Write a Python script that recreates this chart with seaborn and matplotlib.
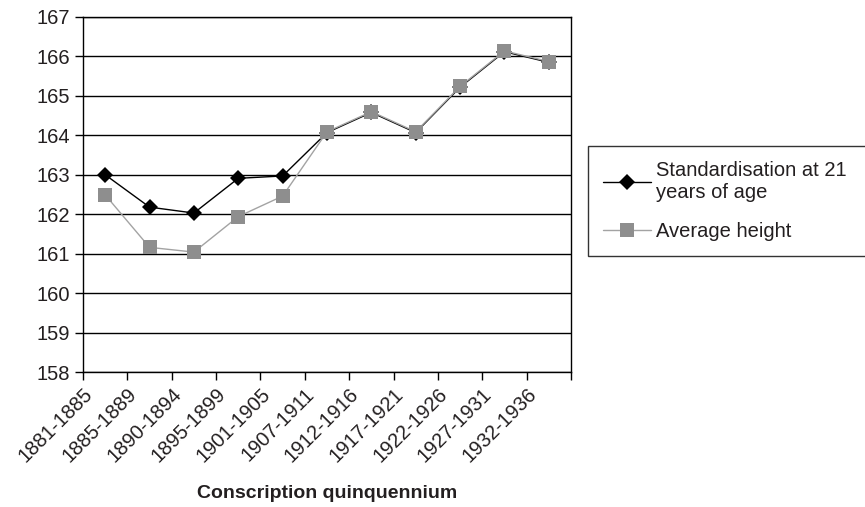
import pandas as pd
import matplotlib
matplotlib.use('Agg')
import matplotlib.pyplot as plt
import matplotlib.transforms as mtransforms
import seaborn as sns

# data
periods = ['1881-1885', '1885-1889', '1890-1894', '1895-1899', '1901-1905',
           '1907-1911', '1912-1916', '1917-1921', '1922-1926', '1927-1931',
           '1932-1936']
standardised = [163.0, 162.18, 162.03, 162.91, 162.97, 164.07, 164.58,
                164.07, 165.22, 166.12, 165.85]
average_height = [162.49, 161.16, 161.04, 161.94, 162.46, 164.09, 164.6,
                  164.09, 165.24, 166.14, 165.87]
label_std = 'Standardisation at 21\nyears of age'
label_avg = 'Average height'

df = pd.DataFrame({
    'pos': list(range(len(periods))) * 2,
    'height': standardised + average_height,
    'series': [label_std] * len(periods) + [label_avg] * len(periods),
})

sns.set_style('white')
plt.rcParams['font.family'] = ['Liberation Sans', 'DejaVu Sans']
txt = '#231f20'

fig = plt.figure(figsize=(8.65, 5.07), dpi=100)
ax = fig.add_axes([83 / 865, 1 - 372 / 507, (571 - 83) / 865, (372 - 17) / 507])

sns.lineplot(data=df, x='pos', y='height', hue='series', style='series',
             palette={label_std: '#000000', label_avg: '#a3a3a3'},
             markers={label_std: 'D', label_avg: 's'}, dashes=False,
             linewidth=1.0, markersize=8, markeredgewidth=0, ax=ax)
# square markers a bit darker than the grey line
for line in ax.get_lines():
    if line.get_marker() == 's':
        line.set_markerfacecolor('#8e8e8e')
        line.set_markersize(9.5)

ax.set_xlim(-0.5, len(periods) - 0.5)
ax.set_ylim(158, 167)
ax.set_yticks(range(158, 168))
ax.yaxis.grid(True, color='black', linewidth=1.0)
ax.set_axisbelow(True)

tick_pos = [i - 0.5 for i in range(len(periods) + 1)]
ax.set_xticks(tick_pos)
ax.set_xticklabels(periods + [''], rotation=45, ha='right',
                   rotation_mode='anchor')
offset = mtransforms.ScaledTranslation(9 / 72, 0, fig.dpi_scale_trans)
for lab in ax.get_xticklabels():
    lab.set_transform(lab.get_transform() + offset)

ax.tick_params(axis='both', which='major', direction='out', length=6,
               width=1, color='black', labelsize=14.5, labelcolor=txt,
               bottom=True, left=True)
ax.tick_params(axis='x', pad=3)
ax.tick_params(axis='y', pad=3)
for side in ['left', 'bottom', 'right', 'top']:
    ax.spines[side].set_visible(True)
    ax.spines[side].set_color('black')
    ax.spines[side].set_linewidth(1.0)

ax.set_xlabel('Conscription quinquennium', fontsize=14, fontweight='bold',
              color=txt, labelpad=14)
ax.set_ylabel('')

handles, labels = ax.get_legend_handles_labels()
ax.legend(handles, labels, loc='upper left',
          bbox_to_anchor=(588 / 865, 1 - 256 / 507, 290 / 865, 110 / 507),
          bbox_transform=fig.transFigure, mode='expand', fontsize=14.5,
          frameon=True, fancybox=False, edgecolor='black',
          borderaxespad=0, handlelength=2.4, handletextpad=0.25,
          labelspacing=1.0, borderpad=0.75, labelcolor=txt)
ax.get_legend().get_frame().set_linewidth(1.0)

fig.savefig('out.png', dpi=100, facecolor='white')
